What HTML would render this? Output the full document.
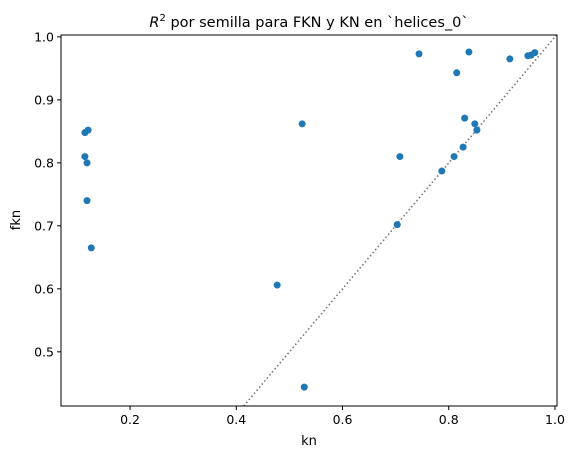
<!DOCTYPE html>
<html><head><meta charset="utf-8"><style>
body{margin:0;background:#fff}
svg text{font-family:"DejaVu Sans","Liberation Sans",sans-serif;fill:#000}
</style></head><body>
<svg id="chart" width="576" height="458" xmlns="http://www.w3.org/2000/svg">
<text x="309" y="27" font-size="14.5" text-anchor="middle"><tspan font-style="italic">R</tspan><tspan font-size="10" dy="-6">2</tspan><tspan dy="6"> por semilla para FKN y KN en `helices_0`</tspan></text>
<g id="plot"></g>
<rect x="61" y="35" width="496" height="371" fill="none" stroke="#000" stroke-width="1"/>
<text x="309" y="445" font-size="13" text-anchor="middle">kn</text>
<text x="20" y="220" font-size="13" text-anchor="middle" transform="rotate(-90 20 220)">fkn</text>
</svg>
<script>
const kn=[0.115,0.121,0.115,0.119,0.119,0.127,0.524,0.477,0.528,0.744,0.708,0.703,0.838,0.815,0.830,0.827,0.849,0.853,0.810,0.787,0.915,0.949,0.955,0.962];
const fkn=[0.848,0.852,0.810,0.800,0.740,0.665,0.862,0.606,0.444,0.973,0.810,0.702,0.976,0.943,0.871,0.825,0.862,0.852,0.810,0.787,0.965,0.970,0.971,0.975];
const xTicks=[0.2,0.4,0.6,0.8,1.0];
const yTicks=[0.5,0.6,0.7,0.8,0.9,1.0];
const xDomain=[0.070,1.0038], yDomain=[0.414,1.003];
const L=61,R=557,T=35,B=406;
const sx=v=>L+(v-xDomain[0])/(xDomain[1]-xDomain[0])*(R-L);
const sy=v=>B-(v-yDomain[0])/(yDomain[1]-yDomain[0])*(B-T);
const NS="http://www.w3.org/2000/svg";
const g=document.getElementById('plot');
function mk(tag,attrs){const e=document.createElementNS(NS,tag);for(const k in attrs)e.setAttribute(k,attrs[k]);g.appendChild(e);return e;}
const lo=Math.max(xDomain[0],yDomain[0]),hi=Math.min(xDomain[1],yDomain[1]);
const diag=mk('line',{x1:sx(lo),y1:sy(lo),x2:sx(hi),y2:sy(hi),stroke:'#777','stroke-width':1.6,'stroke-dasharray':'1.5,2.5'});


xTicks.forEach(v=>{
 const t=mk('line',{x1:sx(v),x2:sx(v),y1:B,y2:B+4,stroke:'#000','stroke-width':1});
 
 
 const l=mk('text',{x:sx(v),y:B+18,'font-size':12.5,'text-anchor':'middle'});l.textContent=v.toFixed(1);
 
 
});
yTicks.forEach(v=>{
 const t=mk('line',{x1:L-4,x2:L,y1:sy(v),y2:sy(v),stroke:'#000','stroke-width':1});
 
 
 const l=mk('text',{x:L-7,y:sy(v)+4.5,'font-size':12.5,'text-anchor':'end'});l.textContent=v.toFixed(1);
 
 
});
kn.forEach((v,i)=>{
 const c=mk('circle',{cx:sx(v),cy:sy(fkn[i]),r:3.5,fill:'#1f77b4'});
 
 
});
</script>
</body></html>
